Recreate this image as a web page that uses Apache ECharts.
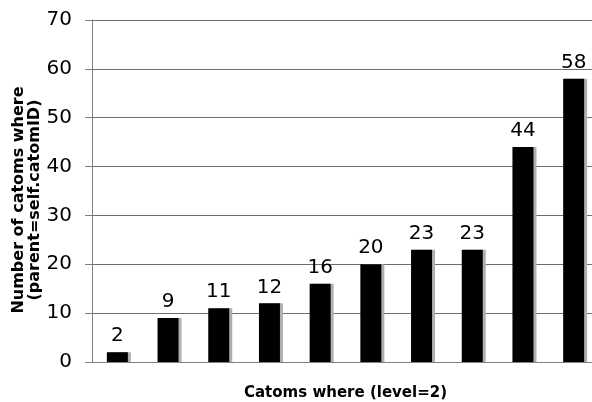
<!DOCTYPE html>
<html><head><meta charset="utf-8">
<script src="https://cdn.jsdelivr.net/npm/echarts@6/dist/echarts.min.js"></script>
<style>html,body{margin:0;padding:0;background:#fff}#c{width:592px;height:402px}</style>
</head><body><div id="c"></div>
<script>
const categories = ["1","2","3","4","5","6","7","8","9","10"];
const values = [2, 9, 11, 12, 16, 20, 23, 23, 44, 58];
const yTicks = [0, 10, 20, 30, 40, 50, 60, 70];
const xTitle = "Catoms where (level=2)";
const yTitle = "Number of catoms where\n(parent=self.catomID)";

const chart = echarts.init(document.getElementById('c'), null, {renderer:'canvas'});
chart.setOption({
  animation:false,
  backgroundColor:'#fff',
  grid:{left:92, right:-7, top:20, bottom:40, containLabel:false, outerBoundsMode:'none'},
  xAxis:{
    type:'category', data:categories,
    name:xTitle, nameLocation:'middle', nameGap:24,
    nameTextStyle:{fontFamily:'DejaVu Sans', fontWeight:'bold', fontSize:15, color:'#000'},
    axisLine:{lineStyle:{color:'#808080', width:1}},
    axisTick:{show:false}, axisLabel:{show:false}
  },
  yAxis:{
    type:'value', min:yTicks[0], max:yTicks[yTicks.length-1], interval:10,
    name:yTitle, nameLocation:'middle', nameGap:49, nameRotate:90, nameMoveOverlap:false,
    nameTextStyle:{fontFamily:'DejaVu Sans', fontWeight:'bold', fontSize:16, color:'#000', lineHeight:16, align:'center', padding:[0,18,0,0]},
    axisLine:{show:true, lineStyle:{color:'#808080', width:1}},
    axisTick:{show:true, length:7, lineStyle:{color:'#808080'}},
    axisLabel:{fontFamily:'DejaVu Sans', fontSize:20, color:'#000', margin:20},
    splitLine:{lineStyle:{color:'#6e6e6e', width:1}}
  },
  series:[{
    type:'bar', data:values, barWidth:21,
    itemStyle:{color:'#000', shadowColor:'#b0b0b0', shadowOffsetX:3, shadowOffsetY:0, shadowBlur:0},
    label:{show:true, position:'top', distance:6, fontFamily:'DejaVu Sans', fontSize:20, color:'#000'}
  }]
});
</script></body></html>
